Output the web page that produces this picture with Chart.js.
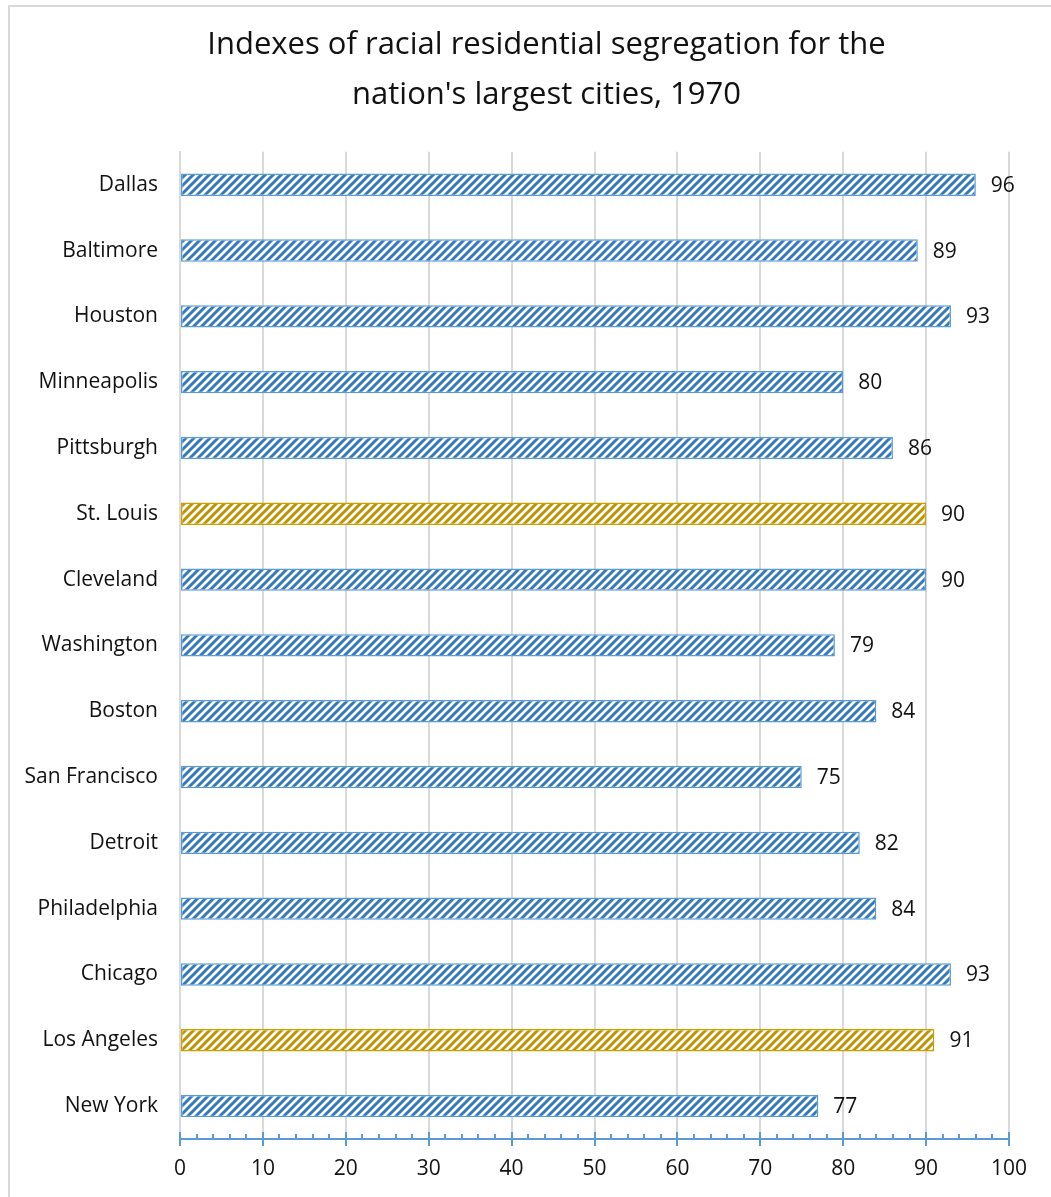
<!DOCTYPE html>
<html>
<head>
<meta charset="utf-8">
<script src="https://cdn.jsdelivr.net/npm/chart.js@4.4.1/dist/chart.umd.min.js"></script>
<style>
  html, body { margin: 0; padding: 0; background: #fff; overflow: hidden; }
  #wrap { position: relative; width: 1051px; height: 1197px; }
  #frame { position: absolute; left: 8px; top: 5px; width: 1100px; height: 1300px; border: 2px solid #d9d9d9; box-sizing: border-box; }
  canvas { position: absolute; left: 0; top: 0; }
</style>
</head>
<body>
<div id="wrap">
  <div id="frame"></div>
  <canvas id="chart" width="1051" height="1197"></canvas>
</div>
<script>
// Segregation index by city, 1970 (top to bottom as shown)
const cities = ['Dallas', 'Baltimore', 'Houston', 'Minneapolis', 'Pittsburgh', 'St. Louis', 'Cleveland',
  'Washington', 'Boston', 'San Francisco', 'Detroit', 'Philadelphia', 'Chicago', 'Los Angeles', 'New York'];
const indexValues = [96, 89, 93, 80, 86, 90, 90, 79, 84, 75, 82, 84, 93, 91, 77];
const highlighted = ['St. Louis', 'Los Angeles'];
const xTicks = [0, 10, 20, 30, 40, 50, 60, 70, 80, 90, 100];

const FONT = '"Open Sans", "Noto Sans", sans-serif';

// diagonal stripe pattern like Excel's wide upward diagonal
function makeStripes(color) {
  const c = document.createElement('canvas');
  c.width = 8;
  c.height = 8;
  const g = c.getContext('2d');
  g.fillStyle = '#fff';
  g.fillRect(0, 0, 8, 8);
  g.strokeStyle = color;
  g.lineWidth = 3;
  g.beginPath();
  g.moveTo(-2, 10); g.lineTo(10, -2);
  g.moveTo(-6, 6); g.lineTo(6, -6);
  g.moveTo(2, 14); g.lineTo(14, 2);
  g.stroke();
  return g.createPattern(c, 'repeat');
}

const bluePattern = makeStripes('#3479BD');
const goldPattern = makeStripes('#C09100');

const fills = cities.map(c => highlighted.includes(c) ? goldPattern : bluePattern);
const borders = cities.map(c => highlighted.includes(c) ? '#C9A000' : '#5B9BD5');

// value labels right of each bar
const valueLabels = {
  id: 'valueLabels',
  afterDatasetsDraw(chart) {
    const ctx = chart.ctx;
    const meta = chart.getDatasetMeta(0);
    ctx.save();
    ctx.font = '21px ' + FONT;
    ctx.fillStyle = '#111';
    ctx.textAlign = 'left';
    ctx.textBaseline = 'middle';
    meta.data.forEach((bar, i) => {
      ctx.fillText(String(indexValues[i]), bar.x + 15, bar.y + 1);
    });
    ctx.restore();
  }
};

// axis tick marks: major ticks cross the axis, minor ticks above it
const axisTicks = {
  id: 'axisTicks',
  afterDraw(chart) {
    const ctx = chart.ctx;
    const x = chart.scales.x;
    const y0 = chart.chartArea.bottom;
    ctx.save();
    ctx.strokeStyle = '#5B9BD5';
    ctx.lineWidth = 2;
    ctx.beginPath();
    for (let v = 0; v <= 100; v += 2) {
      const px = Math.round(x.getPixelForValue(v));
      if (v % 10 === 0) {
        ctx.moveTo(px, y0 - 7);
        ctx.lineTo(px, y0 + 7);
      } else {
        ctx.moveTo(px, y0 - 5);
        ctx.lineTo(px, y0);
      }
    }
    ctx.stroke();
    ctx.restore();
  }
};

// the title sits centred inside the frame, a little right of the canvas centre
const shiftTitle = {
  id: 'shiftTitle',
  afterLayout(chart) {
    if (chart.titleBlock) chart.titleBlock.left = 42;
  }
};

new Chart(document.getElementById('chart'), {
  type: 'bar',
  data: {
    labels: cities,
    datasets: [{
      data: indexValues,
      backgroundColor: fills,
      borderColor: borders,
      borderWidth: 1.5,
      borderSkipped: false,
      categoryPercentage: 1,
      barPercentage: 0.34
    }]
  },
  options: {
    indexAxis: 'y',
    responsive: false,
    animation: false,
    layout: { padding: 0 },
    plugins: {
      legend: { display: false },
      tooltip: { enabled: false },
      title: {
        display: true,
        text: ['Indexes of racial residential segregation for the', "nation's largest cities, 1970"],
        color: '#111',
        font: { family: FONT, size: 31, weight: 'normal', lineHeight: 1.61 },
        padding: { top: 20, bottom: 32 }
      }
    },
    scales: {
      x: {
        min: 0,
        max: 100,
        afterBuildTicks(scale) {
          scale.ticks = xTicks.map(v => ({ value: v }));
        },
        afterFit(scale) {
          scale.height = 1197 - 1139;
          scale.paddingRight = 42;
        },
        grid: { color: '#d9d9d9', lineWidth: 2, drawTicks: false },
        border: { color: '#5B9BD5', width: 2 },
        ticks: { color: '#111', font: { family: FONT, size: 21 }, padding: 17 }
      },
      y: {
        afterFit(scale) { scale.width = 180; },
        grid: { display: false },
        border: { color: '#d9d9d9', width: 2 },
        ticks: { color: '#111', font: { family: FONT, size: 21 }, padding: 14 }
      }
    }
  },
  plugins: [valueLabels, axisTicks, shiftTitle]
});
</script>
</body>
</html>
